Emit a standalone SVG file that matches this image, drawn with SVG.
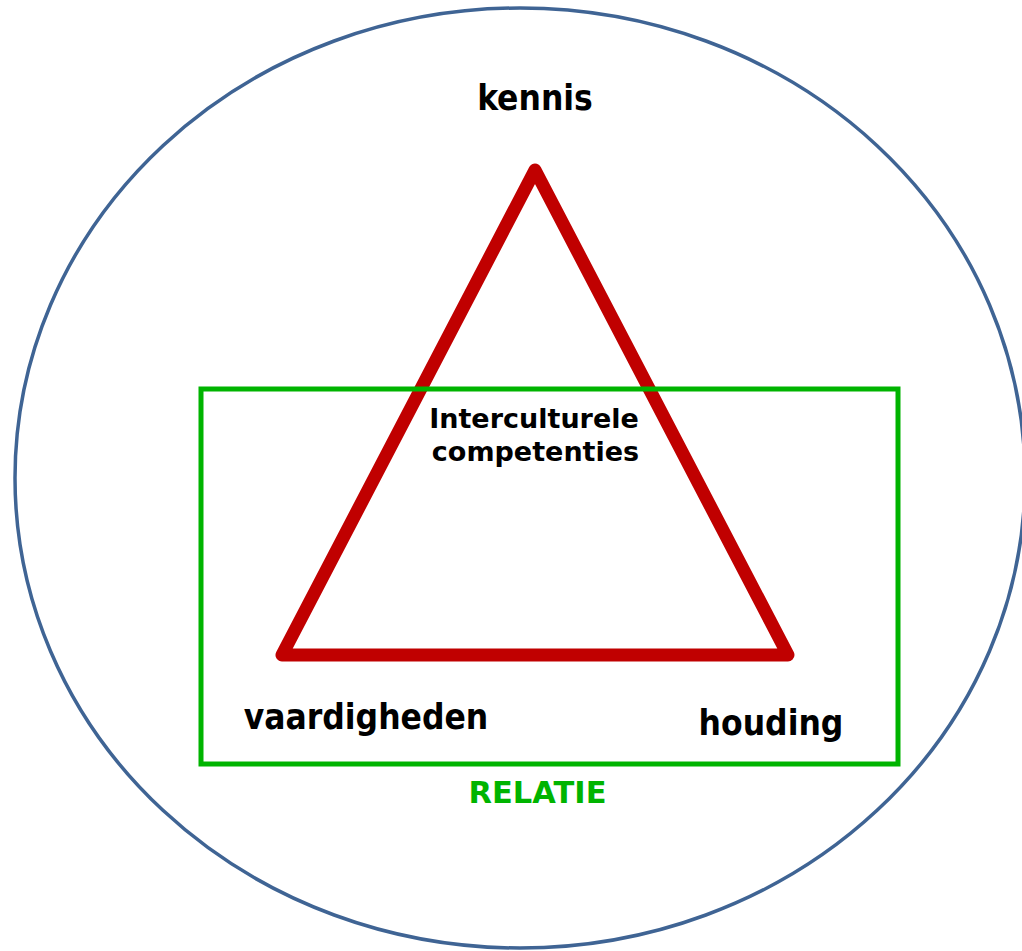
<svg xmlns="http://www.w3.org/2000/svg" width="1022" height="951" viewBox="0 0 1022 951">
<style>
.lbl{font-family:"DejaVu Sans Condensed","DejaVu Sans",sans-serif;font-weight:bold;fill:#000;font-size:35px}
.core{font-family:"DejaVu Sans",sans-serif;font-weight:bold;fill:#000;font-size:27px}
</style>
<rect width="1022" height="951" fill="#fff"/>
<g id="outer">
<ellipse cx="520" cy="478" rx="505" ry="470" fill="none" stroke="#3f6494" stroke-width="3.5"/>
</g>
<g id="triangle">
<polygon points="535,170 282,655 788,655" fill="none" stroke="#c00000" stroke-width="13" stroke-linejoin="round"/>
</g>
<g id="relatie">
<rect x="201" y="389" width="697" height="375" fill="none" stroke="#00b400" stroke-width="5"/>
<text x="537.5" y="803" text-anchor="middle" font-family="DejaVu Sans, sans-serif" font-weight="bold" font-size="30.5" fill="#00b400">RELATIE</text>
</g>
<g id="kennis"><text class="lbl" x="535" y="110" text-anchor="middle">kennis</text></g>
<g id="vaardigheden"><text class="lbl" x="366" y="729" text-anchor="middle">vaardigheden</text></g>
<g id="houding"><text class="lbl" x="771" y="735" text-anchor="middle">houding</text></g>
<g id="competenties">
<text class="core" x="534" y="428" text-anchor="middle">Interculturele</text>
<text class="core" x="535.5" y="461" text-anchor="middle">competenties</text>
</g>
</svg>
